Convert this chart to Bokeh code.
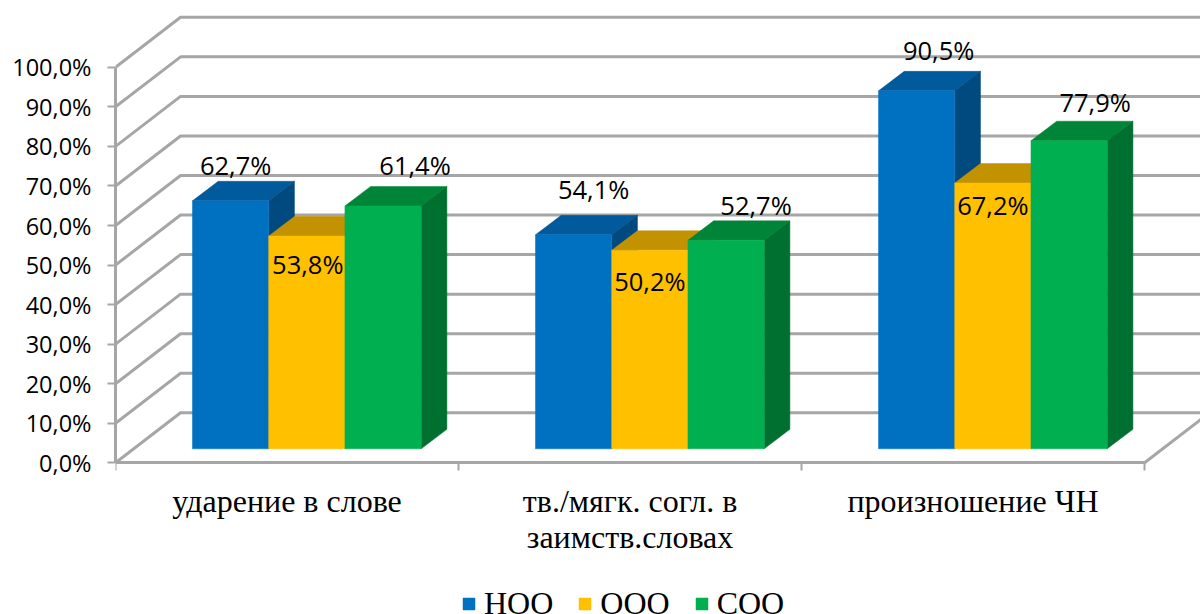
from bokeh.plotting import figure
from bokeh.models import Range1d, LinearAxis, FixedTicker, Legend, LegendItem
from bokeh.core.properties import value
from bokeh.embed import file_html
from bokeh.resources import INLINE

# --- data
categories = ["ударение в слове", "тв./мягк. согл. в\nзаимств.словах", "произношение ЧН"]
series_names = ["НОО", "ООО", "СОО"]
noo = [62.7, 54.1, 90.5]
ooo = [53.8, 50.2, 67.2]
soo = [61.4, 52.7, 77.9]
y_ticks = [0, 10, 20, 30, 40, 50, 60, 70, 80, 90, 100]

# --- colours (front, top, side)
front_colors = ["#0070C0", "#FFC000", "#00B050"]
top_colors = ["#005A9B", "#C29200", "#008538"]
side_colors = ["#004A80", "#C29200", "#007030"]
GRID = "#A6A6A6"

# --- layout: pixel scale of the 3D projection
W, H = 1200, 614
LEFT = 115.7          # px of x = 0
UNIT_X = 342.8        # px per category
ZERO_Y = 462.3        # px of y = 0
UNIT_Y = 3.955        # px per percent
px = lambda n: n / UNIT_X
py = lambda n: n / UNIT_Y
WALL_DX, WALL_DY = px(65), py(50)
BAR_W = 1 / 4.5
BAR_X0, BAR_Y0 = px(19.8), py(14)
BAR_DX, BAR_DY = px(25.7), py(19.5)
X_END = (W - LEFT) / UNIT_X
Y_TOP = ZERO_Y / UNIT_Y
Y_BOTTOM = -(H - ZERO_Y) / UNIT_Y

# pixel nudges of the manually placed data labels
label_dx = [[5, 20, 22], [1, 0, 0], [32, 30, 26]]
label_dy = [[36, 46, 41], [-28, -31, -22], [41, 35, 39]]

p = figure(width=W, height=H, output_backend="svg", toolbar_location=None,
           x_range=Range1d(0, X_END), y_range=Range1d(Y_BOTTOM, Y_TOP),
           min_border_left=int(LEFT), min_border_right=0, min_border_top=0, min_border_bottom=0,
           frame_width=W - int(LEFT), frame_height=H,
           x_axis_location=None, y_axis_location=None, outline_line_color=None)
p.grid.visible = False

# walls' gridlines
gx, gy = [], []
for t in y_ticks:
    gx.append([0, WALL_DX, X_END])
    gy.append([t, t + WALL_DY, t + WALL_DY])
p.multi_line(gx, gy, line_color=GRID, line_width=3)
p.line([3, 3 + WALL_DX], [0, WALL_DY], line_color=GRID, line_width=3)

# bars
renderers = []
for i, vals in enumerate([noo, ooo, soo]):
    lefts = [c + BAR_X0 + 0.75 * BAR_W + i * BAR_W for c in range(3)]
    rights = [l + BAR_W for l in lefts]
    p.patches(
        [[l, l + BAR_DX, r + BAR_DX, r] for l, r in zip(lefts, rights)],
        [[BAR_Y0 + v, BAR_Y0 + v + BAR_DY, BAR_Y0 + v + BAR_DY, BAR_Y0 + v] for v in vals],
        fill_color=top_colors[i], line_color=top_colors[i], line_width=0.5)
    p.patches(
        [[r, r + BAR_DX, r + BAR_DX, r] for r in rights],
        [[BAR_Y0, BAR_Y0 + BAR_DY, BAR_Y0 + BAR_DY + v, BAR_Y0 + v] for v in vals],
        fill_color=side_colors[i], line_color=side_colors[i], line_width=0.5)
    r = p.quad(left=lefts, right=rights, bottom=[BAR_Y0] * 3, top=[BAR_Y0 + v for v in vals],
               fill_color=front_colors[i], line_color=front_colors[i], line_width=0.5)
    renderers.append(r)

# data labels
for i, vals in enumerate([noo, ooo, soo]):
    xs = [c + BAR_X0 + 0.75 * BAR_W + (i + 0.5) * BAR_W for c in range(3)]
    p.text(xs, [BAR_Y0 + v for v in vals],
           text=[f"{v:.1f}%".replace(".", ",") for v in vals],
           x_offset=label_dx[i], y_offset=[-d for d in label_dy[i]],
           text_align="center", text_baseline="middle",
           text_font=value("Open Sans"), text_font_size="25.5px", text_color="#000000")

# axes
yaxis = LinearAxis(ticker=FixedTicker(ticks=y_ticks), bounds=(0, 100),
                   major_label_overrides={t: f"{t},0%" for t in y_ticks})
yaxis.axis_line_color = GRID
yaxis.axis_line_width = 3
yaxis.major_tick_line_color = GRID
yaxis.major_tick_line_width = 2
yaxis.major_tick_out = 8
yaxis.major_tick_in = 0
yaxis.minor_tick_line_color = None
yaxis.major_label_text_font = "Open Sans"
yaxis.major_label_text_font_size = "23.5px"
yaxis.major_label_text_color = "#000000"
yaxis.major_label_standoff = 16
p.add_layout(yaxis, "left")

xaxis = LinearAxis(ticker=FixedTicker(ticks=[0.5, 1.5, 2.5], minor_ticks=[0, 1, 2, 3]),
                   bounds=(0, 3), fixed_location=0,
                   major_label_overrides={c + 0.5: name for c, name in enumerate(categories)})
xaxis.axis_line_color = GRID
xaxis.axis_line_width = 3
xaxis.major_tick_line_color = None
xaxis.major_tick_out = 0
xaxis.major_tick_in = 0
xaxis.minor_tick_line_color = GRID
xaxis.minor_tick_line_width = 2
xaxis.minor_tick_out = 8
xaxis.minor_tick_in = 0
xaxis.major_label_text_font = "Liberation Serif"
xaxis.major_label_text_font_size = "32px"
xaxis.major_label_text_color = "#000000"
xaxis.major_label_standoff = 12
xaxis.major_label_text_line_height = 1.0
p.add_layout(xaxis, "below")

legend = Legend(items=[LegendItem(label=n, renderers=[r]) for n, r in zip(series_names, renderers)],
                orientation="horizontal", location=(346, -8),
                glyph_width=15, glyph_height=15, label_standoff=8, spacing=24,
                padding=0, margin=0, border_line_color=None, background_fill_color=None,
                label_text_font="Liberation Serif", label_text_font_size="32px",
                label_text_color="#000000")
p.add_layout(legend, "center")

open("out.html", "w").write(file_html(p, INLINE))
